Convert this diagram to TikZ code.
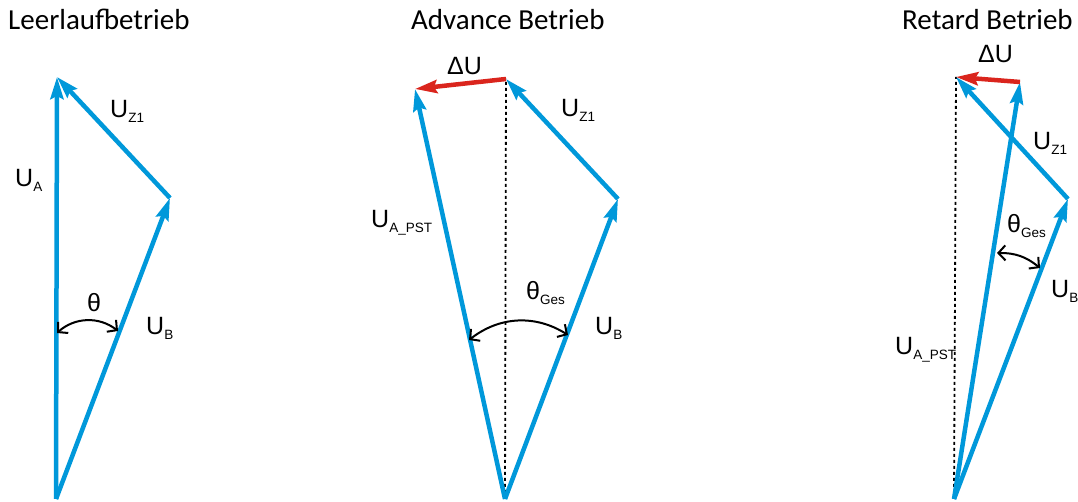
\documentclass[tikz,border=0pt]{standalone}
\usepackage{fontspec}
\setmainfont{Liberation Sans}
\newfontfamily\titlefont{Carlito}
\usetikzlibrary{arrows.meta}
\definecolor{vblue}{RGB}{0,152,218}
\definecolor{vred}{RGB}{218,37,29}
\newcommand{\vlab}[2]{#1\raisebox{-5pt}{\fontsize{13.5}{14}\selectfont #2}}
\begin{document}
\begin{tikzpicture}[x=1pt,y=1pt,
  vec/.style={draw=vblue,line width=4.5pt,-{Stealth[length=22pt,width=13pt,inset=3pt]}},
  dvec/.style={draw=vred,line width=4.5pt,-{Stealth[length=22pt,width=13pt,inset=3pt]}},
  angarc/.style={line width=2pt,{Straight Barb[length=7pt,width=15pt]}-{Straight Barb[length=7pt,width=15pt]}},
  refline/.style={line width=1.8pt,dash pattern=on 3pt off 3pt},
  lbl/.style={anchor=base west,inner sep=0pt,font=\fontsize{25}{25}\selectfont},
  ttl/.style={anchor=base west,inner sep=0pt,font=\titlefont\fontsize{29}{30}\selectfont}]
\useasboundingbox (0,0) rectangle (1078,502);

% ---------- Leerlaufbetrieb ----------
\coordinate (O1) at (56,3);
\coordinate (A1) at (57,425);
\coordinate (B1) at (170,304);
\coordinate (L1) at (57,169);
\coordinate (R1) at (118,171);
\draw[vec] (O1) -- (A1);
\draw[vec] (O1) -- (B1);
\draw[vec] (B1) -- (A1);
\draw[angarc] (L1) to[bend left=40] (R1);
\node[ttl] (t1) at (8,472) {Leerlaufbetrieb};
\node[lbl] (ua1) at (15,315) {\vlab{U}{A}};
\node[lbl] (uz1) at (110,384) {\vlab{U}{Z1}};
\node[lbl] (th1) at (87,190) {θ};
\node[lbl] (ub1) at (146,167) {\vlab{U}{B}};

% ---------- Advance Betrieb ----------
\coordinate (O2) at (505,3);
\coordinate (P2) at (415,413);
\coordinate (Q2) at (506,423);
\coordinate (B2) at (618,303);
\coordinate (L2) at (469,162);
\coordinate (R2) at (568,167);
\draw[refline] (O2) -- (Q2);
\draw[vec] (O2) -- (P2);
\draw[vec] (O2) -- (B2);
\draw[vec] (B2) -- (Q2);
\draw[dvec] (Q2) -- (P2);
\draw[angarc] (L2) to[bend left=35] (R2);
\node[ttl] (t2) at (411,472) {Advance Betrieb};
\node[lbl] (du2) at (447,427) {ΔU};
\node[lbl] (uz2) at (561,385) {\vlab{U}{Z1}};
\node[lbl] (ua2) at (371,274) {\vlab{U}{A\_PST}};
\node[lbl] (th2) at (526,202) {\vlab{θ}{Ges}};
\node[lbl] (ub2) at (595,167) {\vlab{U}{B}};

% ---------- Retard Betrieb ----------
\coordinate (O3) at (954,3);
\coordinate (T3) at (956,425);
\coordinate (S3) at (1020,420);
\coordinate (B3) at (1068,303);
\coordinate (L3) at (997,249);
\coordinate (R3) at (1040,234);
\draw[refline] (O3) -- (T3);
\draw[vec] (O3) -- (S3);
\draw[vec] (O3) -- (B3);
\draw[vec] (B3) -- (T3);
\draw[dvec] (S3) -- (T3);
\draw[angarc] (L3) to[bend left=20] (R3);
\node[ttl] (t3) at (902,472) {Retard Betrieb};
\node[lbl] (du3) at (978,439) {ΔU};
\node[lbl] (uz3) at (1033,352) {\vlab{U}{Z1}};
\node[lbl] (th3) at (1007,269) {\vlab{θ}{Ges}};
\node[lbl] (ub3) at (1051,204) {\vlab{U}{B}};
\node[lbl] (ua3) at (895,147) {\vlab{U}{A\_PST}};
\end{tikzpicture}
\end{document}
